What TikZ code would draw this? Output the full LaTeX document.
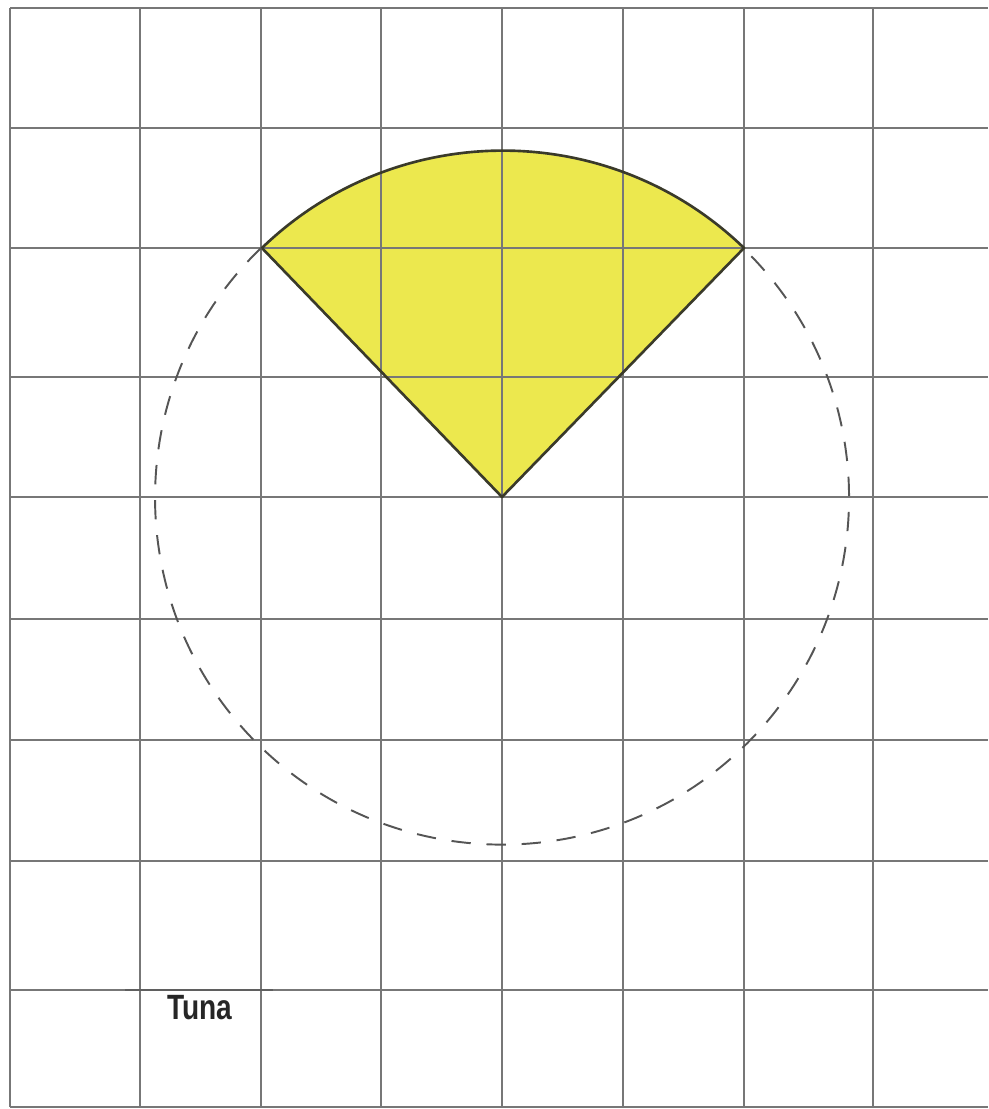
\documentclass[tikz,border=0pt]{standalone}
\usepackage{fontspec}
\setmainfont{Liberation Sans}
\definecolor{gridc}{HTML}{777777}
\definecolor{secfill}{HTML}{ECE84E}
\definecolor{edgec}{HTML}{3A3A2A}
\definecolor{dashc}{HTML}{555555}
\begin{document}
\begin{tikzpicture}[x=0.02cm,y=0.02cm,
  gridline/.style={draw=gridc,line width=1.3pt},
  sectoredge/.style={draw=edgec,line width=1.5pt,line join=round},
  dashcircle/.style={draw=dashc,line width=1.1pt,dash pattern=on 11pt off 9pt},
  labeltext/.style={font=\bfseries\fontsize{20}{20}\selectfont,text=black!85,inner sep=0pt,xscale=0.8}]
\useasboundingbox (0,0) rectangle (988,1109);
\fill[white] (0,0) rectangle (988,1109);
\coordinate (O) at (502,612);
\coordinate (A) at (744,861);
\coordinate (B) at (261,861);
% sector fill
\fill[secfill] (O) -- (A) arc[start angle=46,end angle=134,radius=347] -- cycle;
% grid
\foreach \x in {10,140,261,381,502,623,744,873}
  \draw[gridline] (\x,2) -- (\x,1101);
\foreach \y in {1101,981,861,732,612,490,369,248,119,2}
  \draw[gridline] (10,\y) -- (988,\y);
% label bar
\draw[draw=gridc!80!black,line width=1.5pt] (125,119) -- (273,119);
% sector outline
\draw[sectoredge] (O) -- (A) arc[start angle=46,end angle=134,radius=347] -- cycle;
% dashed rest of circle
\draw[dashcircle] (B) arc[start angle=134,end angle=406,radius=347];
\node[labeltext] (lbl) at (200,101) {Tuna};
\end{tikzpicture}
\end{document}
